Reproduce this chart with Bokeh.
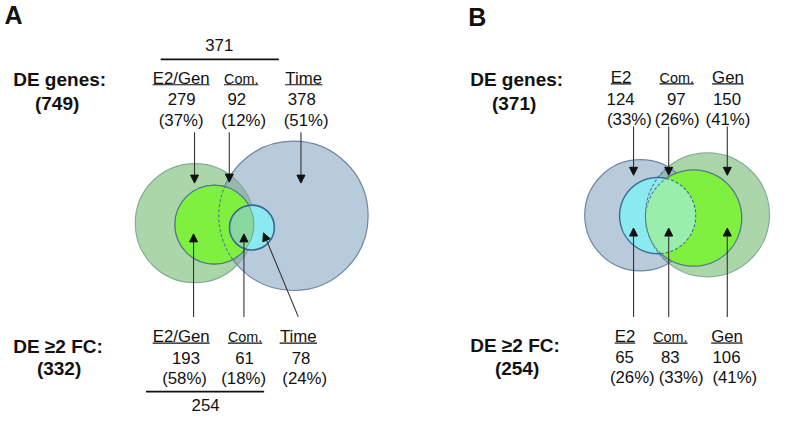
import numpy as np
from bokeh.plotting import figure
from bokeh.models import Range1d, ColumnDataSource, Arrow, NormalHead
from bokeh.core.properties import value
from bokeh.embed import file_html
from bokeh.resources import INLINE

# ---------------- data ----------------
a_cats = ["E2/Gen", "Com.", "Time"]
a_de_counts = [279, 92, 378]
a_de_pcts = [37, 12, 51]
a_fc_counts = [193, 61, 78]
a_fc_pcts = [58, 18, 24]
a_de_total = 749
a_fc_total = 332
a_de_shared = 371
a_fc_shared = 254

b_cats = ["E2", "Com.", "Gen"]
b_de_counts = [124, 97, 150]
b_de_pcts = [33, 26, 41]
b_fc_counts = [65, 83, 106]
b_fc_pcts = [26, 33, 41]
b_de_total = 371
b_fc_total = 254

row_de = "DE genes:"
row_fc = "DE \u22652 FC:"
panels = ["A", "B"]

# ---------------- layout (image coordinates) ----------------
W, H = 773, 415
Y_TOP, Y_BOT = 3.0, 428.0
S = H / (Y_BOT - Y_TOP)
X_LEFT = -1.0
FONT = "Liberation Sans"

circ = {
    "A_green": (198, 231, 61), "A_blue": (299, 223.5, 76.5),
    "A_bright": (218, 232.5, 40.5), "A_cyan": (256.5, 235.5, 23),
    "B_blue": (654.3, 223, 57), "B_green": (723, 222.5, 63.5),
    "B_cyan": (672, 223.3, 39), "B_bright": (708.8, 225.8, 49.3),
}
LIGHT_GREEN = "#aad6aa"
BLUE = "#b8cbdb"
OVERLAP = "#97b7b1"
BRIGHT = "#80f040"
CYAN = "#8aeaf0"
CB_A = "#88d8a0"
CB_B = "#98eeaa"
E_BLUE = "#6d86a6"
E_GREEN = "#86ad96"
E_BRIGHT = "#557a8a"
E_CYAN = "#3d6896"

p = figure(width=W, height=H, x_range=Range1d(X_LEFT, X_LEFT + W / S),
           y_range=Range1d(Y_BOT, Y_TOP),
           output_backend="svg", toolbar_location=None, x_axis_type=None, y_axis_type=None,
           min_border=0, outline_line_color=None, background_fill_color="white")
p.grid.visible = False


def pts_inside(c1, c2, n=720):
    cx, cy, r = c1
    ox, oy, orr = c2
    a0 = np.arctan2(oy - cy, ox - cx) + np.pi
    t = np.linspace(a0, a0 + 2 * np.pi, n)
    x = cx + r * np.cos(t)
    y = cy + r * np.sin(t)
    m = (x - ox) ** 2 + (y - oy) ** 2 <= orr ** 2
    return x[m], y[m]


def lens(c1, c2):
    x1, y1 = pts_inside(c1, c2)
    x2, y2 = pts_inside(c2, c1)
    x = np.concatenate([x1, x2]); y = np.concatenate([y1, y2])
    mx, my = x.mean(), y.mean()
    o = np.argsort(np.arctan2(y - my, x - mx))
    return x[o], y[o]


def disc(c, fill, line=None, lw=1.2):
    p.circle(x=[c[0]], y=[c[1]], radius=c[2], fill_color=fill,
             line_color=line, line_width=lw, line_alpha=1 if line else 0)


def ring(c, line, lw=1.2, alpha=1.0):
    p.circle(x=[c[0]], y=[c[1]], radius=c[2], fill_color=None,
             line_color=line, line_width=lw, line_alpha=alpha)


def dashed(c1, c2, line, lw=1.1):
    x, y = pts_inside(c1, c2)
    p.line(x, y, line_color=line, line_width=lw, line_dash="3 2")


def outer_arc(c1, c2, line, lw):
    cx, cy, r = c1
    ox, oy, orr = c2
    t = np.linspace(0, 2 * np.pi, 720)
    xs = cx + r * np.cos(t); ys = cy + r * np.sin(t)
    out = (xs - ox) ** 2 + (ys - oy) ** 2 > orr ** 2
    p.line(np.where(out, xs, np.nan), np.where(out, ys, np.nan), line_color=line, line_width=lw)


# ---- panel A circles ----
disc(circ["A_green"], LIGHT_GREEN)
disc(circ["A_blue"], BLUE)
lx, ly = lens(circ["A_green"], circ["A_blue"])
p.patch(lx, ly, fill_color=OVERLAP, line_color=None)
ring(circ["A_green"], E_GREEN)
ring(circ["A_blue"], E_BLUE)
disc(circ["A_bright"], BRIGHT, E_BRIGHT, 1.2)
dashed(circ["A_blue"], circ["A_bright"], E_BRIGHT)
disc(circ["A_cyan"], CYAN)
lx, ly = lens(circ["A_cyan"], circ["A_bright"])
p.patch(lx, ly, fill_color=CB_A, line_color=None)
ring(circ["A_bright"], E_BRIGHT, 1.0, 0.6)
ring(circ["A_cyan"], E_CYAN, 1.6)

# ---- panel B circles ----
disc(circ["B_blue"], BLUE)
disc(circ["B_green"], LIGHT_GREEN)
lx, ly = lens(circ["B_blue"], circ["B_green"])
p.patch(lx, ly, fill_color=OVERLAP, line_color=None)
ring(circ["B_blue"], E_BLUE)
ring(circ["B_green"], E_GREEN)
disc(circ["B_cyan"], CYAN)
disc(circ["B_bright"], BRIGHT)
lx, ly = lens(circ["B_cyan"], circ["B_bright"])
p.patch(lx, ly, fill_color=CB_B, line_color=None)
dashed(circ["B_green"], circ["B_blue"], E_BRIGHT)
dashed(circ["B_bright"], circ["B_cyan"], E_BRIGHT)
dashed(circ["B_cyan"], circ["B_bright"], E_CYAN)
outer_arc(circ["B_cyan"], circ["B_bright"], E_CYAN, 1.4)
outer_arc(circ["B_bright"], circ["B_cyan"], E_BRIGHT, 1.3)

# ---------------- texts ----------------
EM = {"E": .667, "2": .556, "/": .278, "G": .778, "e": .556, "n": .556, "C": .722,
      "o": .556, "m": .833, ".": .278, "T": .611, "i": .222}


def twidth(s, px):
    return sum(EM.get(ch, .556) for ch in s) * px / S


def text(xs, ys, texts, sizes, bold=False, align="center", color="#111"):
    src = ColumnDataSource(dict(x=xs, y=ys, t=texts, sz=[f"{s}px" for s in sizes]))
    p.text(x="x", y="y", text="t", source=src, text_font=value(FONT), text_font_size="sz",
           text_font_style="bold" if bold else "normal", text_align=align,
           text_baseline="middle", text_color=color)


LBL = 16.8
SMALL = 14.4
HEAD = 19


def block(cats, counts, pcts, lab_x, num_x, pct_x, ys):
    sizes = [SMALL if c == "Com." else LBL for c in cats]
    text(lab_x, [ys[0]] * 3, cats, sizes)
    text(num_x, [ys[1]] * 3, [str(v) for v in counts], [LBL] * 3)
    text(pct_x, [ys[2]] * 3, [f"({v}%)" for v in pcts], [LBL] * 3)
    x0 = [x - twidth(c, s) / 2 for x, c, s in zip(lab_x, cats, sizes)]
    x1 = [x + twidth(c, s) / 2 for x, c, s in zip(lab_x, cats, sizes)]
    p.segment(x0=x0, y0=[ys[0] + 6.3] * 3, x1=x1, y1=[ys[0] + 6.3] * 3,
              line_color="#111", line_width=1.2)


block(a_cats, a_de_counts, a_de_pcts, [184, 245.5, 309.5], [184.5, 241, 307.5], [184, 248, 312], [83, 104, 125.5])
block(a_cats, a_fc_counts, a_fc_pcts, [184, 249.5, 304], [189, 249, 306.7], [187.5, 248, 310.5], [347.5, 369.5, 390.5])
block(b_cats, b_de_counts, b_de_pcts, [634.5, 691.5, 744], [634, 691, 743], [643, 692, 744], [82, 103.5, 125])
block(b_cats, b_fc_counts, b_fc_pcts, [638.5, 685, 743], [638, 685, 742.5], [646, 696, 751], [347.5, 368.5, 389.5])

# row headers
text([12, 480], [84, 84], [row_de, row_de], [HEAD, HEAD], bold=True, align="left")
text([57, 525], [108, 108], [f"({a_de_total})", f"({b_de_total})"], [HEAD, HEAD], bold=True)
text([12, 480], [357, 356], [row_fc, row_fc], [HEAD, HEAD], bold=True, align="left")
text([59, 528], [380, 380], [f"({a_fc_total})", f"({b_fc_total})"], [HEAD, HEAD], bold=True)
# panel letters
text([3, 478], [18, 20], panels, [25, 25], bold=True, align="left")

# shared totals with brackets
text([223, 209], [48.5, 417.5], [str(a_de_shared), str(a_fc_shared)], [LBL, LBL])
p.segment(x0=[163, 148], y0=[63.3, 403.5], x1=[284, 269], y1=[63.3, 403.5],
          line_color="#111", line_width=1.6)

# ---------------- arrows ----------------
arr = dict(
    x0=[197.7, 233.3, 306.7, 196.7, 248.3, 304, 647.3, 683.3, 743.3, 647.3, 683.3, 743.3],
    y0=[138, 138, 138, 327, 327, 327, 132, 132, 132, 327, 327, 327],
    x1=[197.7, 233.3, 306.7, 196.7, 248.3, 268.3, 647.3, 683.3, 743.3, 647.3, 683.3, 743.3],
    y1=[190, 189, 190, 242, 242, 241, 182, 182, 182, 236, 236, 236],
)
p.add_layout(Arrow(source=ColumnDataSource(arr), x_start="x0", y_start="y0", x_end="x1", y_end="y1",
                   line_color="#333", line_width=1.1,
                   end=NormalHead(size=8, fill_color="#111", line_color="#111", line_width=1)))

open("out.html", "w").write(file_html(p, INLINE))
